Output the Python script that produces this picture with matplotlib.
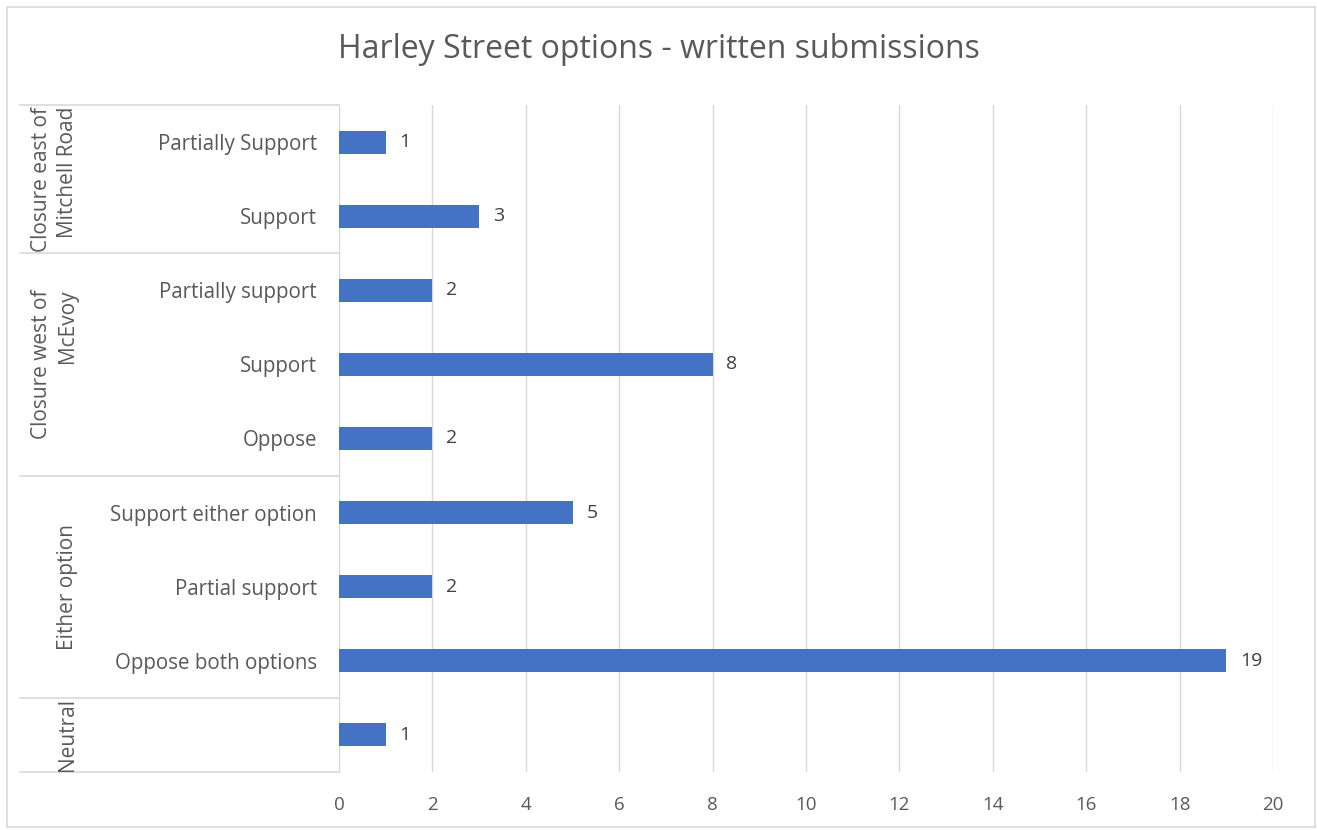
import matplotlib.pyplot as plt
from matplotlib.patches import Rectangle
from matplotlib.transforms import blended_transform_factory

# categories listed top to bottom, with the group each belongs to
labels = ["Partially Support", "Support", "Partially support", "Support", "Oppose",
          "Support either option", "Partial support", "Oppose both options", ""]
values = [1, 3, 2, 8, 2, 5, 2, 19, 1]
groups = ["Closure east of\nMitchell Road", "Closure west of\nMcEvoy", "Either option", "Neutral"]
group_sizes = [2, 3, 3, 1]
xticks = [0, 2, 4, 6, 8, 10, 12, 14, 16, 18, 20]

bar_col = '#4472C4'
grid_col = '#D9D9D9'
txt_col = '#595959'
plt.rcParams['font.family'] = ['Open Sans', 'DejaVu Sans']

W, H = 1317, 830
fig = plt.figure(figsize=(W / 100, H / 100), dpi=100)
ax = fig.add_axes([339 / W, 1 - 772 / H, (1273 - 339) / W, (772 - 105) / H])

ypos = list(range(len(values)))
ax.barh(ypos, values, height=0.31, color=bar_col, zorder=3)
for y, v in zip(ypos, values):
    ax.annotate(str(v), (v, y), xytext=(10, 0), textcoords='offset points',
                va='center', ha='left', fontsize=14, color='#404040')

ax.set_xlim(0, 20)
ax.set_ylim(len(values) - 0.5, -0.5)
ax.set_xticks(xticks)
ax.set_xticklabels([str(t) for t in xticks], fontsize=13.5, color=txt_col)
ax.tick_params(axis='x', length=0, pad=17)
ax.set_yticks(ypos)
ax.set_yticklabels(labels, fontsize=14.8, color=txt_col)
ax.tick_params(axis='y', length=0, pad=16)
ax.grid(axis='x', color=grid_col, lw=1, zorder=0)
for s in ['top', 'right', 'bottom']:
    ax.spines[s].set_visible(False)
ax.spines['left'].set_color(grid_col)

# group separators and rotated group labels to the left of the axis
trans = blended_transform_factory(fig.transFigure, ax.transData)
x0 = 20 / W
x1 = 339 / W
start = -0.5
ax.plot([x0, x1], [start, start], color=grid_col, lw=1.2, transform=trans, clip_on=False)
for g, n in zip(groups, group_sizes):
    end = start + n
    ax.plot([x0, x1], [end, end], color=grid_col, lw=1.2, transform=trans, clip_on=False)
    ax.text(78 / W, (start + end) / 2, g, rotation=90, ha='right', va='center',
            fontsize=15, color=txt_col, transform=trans, linespacing=1.3)
    start = end

fig.text(0.5, 1 - 50 / H, 'Harley Street options - written submissions',
         ha='center', va='center', fontsize=23, color=txt_col)

# chart border
fig.patches.append(Rectangle((7 / W, 1 - 827 / H), (1315 - 7) / W, (827 - 7) / H,
                             transform=fig.transFigure, fill=False, edgecolor=grid_col, lw=1.2))

fig.savefig('out.png', dpi=100)
